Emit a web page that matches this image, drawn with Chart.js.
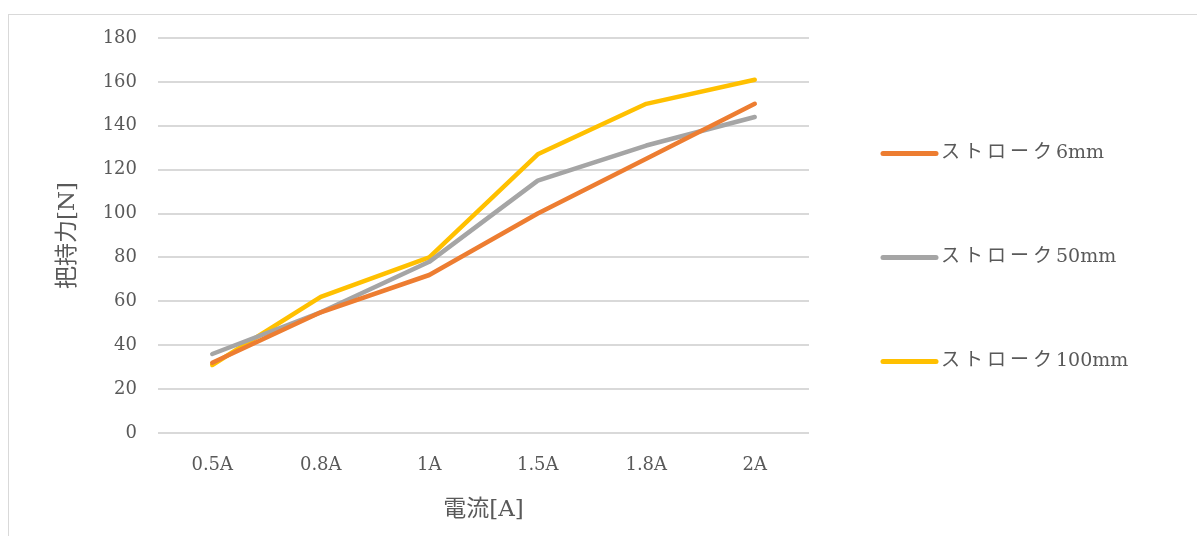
<!DOCTYPE html>
<html>
<head>
<meta charset="utf-8">
<script src="https://cdn.jsdelivr.net/npm/chart.js@4"></script>
<style>
  html, body { margin: 0; padding: 0; background: #fff; }
  #frame {
    position: absolute; left: 8px; top: 14px; width: 1200px; height: 600px;
    border: 1px solid #d9d9d9; box-sizing: border-box;
  }
  #wrap { position: absolute; left: 0; top: 0; width: 1197px; height: 536px; }
</style>
</head>
<body>
<div id="frame"></div>
<div id="wrap"><canvas id="holdChart"></canvas></div>
<script>
const currents = ["0.5A", "0.8A", "1A", "1.5A", "1.8A", "2A"];
const stroke6 = [32, 55, 72, 100, 125, 150];
const stroke50 = [36, 55, 78, 115, 131, 144];
const stroke100 = [31, 62, 80, 127, 150, 161];
const seriesNames = ["ストローク6mm", "ストローク50mm", "ストローク100mm"];
const seriesColors = ["#ED7D31", "#A5A5A5", "#FFC000"];

const fontFamily = "'DejaVu Serif', 'Noto Sans CJK JP', serif";
const textColor = "#595959";

function makeSet(i, values) {
  return {
    label: seriesNames[i],
    data: values,
    borderColor: seriesColors[i],
    backgroundColor: seriesColors[i],
    borderWidth: 4.5,
    pointRadius: 0,
    tension: 0,
    borderCapStyle: "round",
    borderJoinStyle: "round",
  };
}

// legend drawn on the right, spaced out like the original
const sideLegend = {
  id: "sideLegend",
  afterDraw(chart) {
    const ctx = chart.ctx;
    const area = chart.chartArea;
    const x = area.right + 72;
    const step = 104;
    const y0 = (area.top + area.bottom) / 2 - step + 22;
    ctx.save();
    ctx.font = "19px " + fontFamily;
    ctx.textBaseline = "middle";
    chart.data.datasets.forEach((ds, i) => {
      const y = y0 + i * step;
      ctx.strokeStyle = ds.borderColor;
      ctx.lineWidth = 5;
      ctx.lineCap = "round";
      ctx.beginPath();
      ctx.moveTo(x + 2, y);
      ctx.lineTo(x + 55, y);
      ctx.stroke();
      // katakana part is spaced wider than the number part
      const cut = ds.label.search(/[0-9]/);
      const kana = ds.label.slice(0, cut);
      const rest = ds.label.slice(cut);
      ctx.fillStyle = textColor;
      ctx.letterSpacing = "4px";
      ctx.fillText(kana, x + 60, y);
      const w = ctx.measureText(kana).width;
      ctx.letterSpacing = "0px";
      ctx.fillText(rest, x + 60 + w, y);
    });
    ctx.restore();
  },
};

const ctx = document.getElementById("holdChart").getContext("2d");
new Chart(ctx, {
  type: "line",
  data: {
    labels: currents,
    datasets: [makeSet(0, stroke6), makeSet(1, stroke50), makeSet(2, stroke100)],
  },
  options: {
    responsive: true,
    maintainAspectRatio: false,
    animation: false,
    layout: { padding: { left: 50, top: 38, right: 388, bottom: 8 } },
    plugins: {
      legend: { display: false },
      tooltip: { enabled: false },
    },
    scales: {
      x: {
        offset: true,
        grid: { display: false, drawTicks: false },
        border: { display: false },
        ticks: { color: textColor, padding: 22, font: { family: fontFamily, size: 18 } },
        title: { display: true, text: "電流[A]", color: textColor, font: { family: fontFamily, size: 23 } },
        afterFit: (scale) => { scale.height = 95; },
      },
      y: {
        min: 0,
        max: 180,
        ticks: { stepSize: 20, color: textColor, padding: 21, font: { family: fontFamily, size: 18 } },
        grid: { color: "#d9d9d9", lineWidth: 2, drawTicks: false },
        border: { display: false },
        title: { display: true, text: "把持力[N]", color: textColor, font: { family: fontFamily, size: 23 } },
        afterFit: (scale) => { scale.width = 108; },
      },
    },
  },
  plugins: [sideLegend],
});
</script>
</body>
</html>
